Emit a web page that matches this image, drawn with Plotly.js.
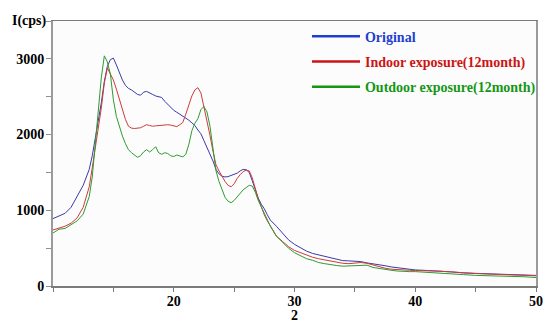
<!DOCTYPE html>
<html>
<head>
<meta charset="utf-8">
<script src="https://cdn.plot.ly/plotly-3.0.1.min.js"></script>
<style>html,body{margin:0;padding:0;background:#fff;}#chart{width:544px;height:323px;}</style>
</head>
<body>
<div id="chart"></div>
<script>
// 2θ values (degrees)
const twoTheta = [10,10.5,11,11.5,12,12.5,13,13.25,13.5,13.75,14,14.25,14.5,14.75,15,15.25,15.5,15.75,16,16.25,16.5,16.75,17,17.25,17.5,17.75,18,18.25,18.5,18.75,19,19.25,19.5,19.75,20,20.25,20.5,20.75,21,21.25,21.5,21.75,22,22.25,22.5,22.75,23,23.25,23.5,23.75,24,24.25,24.5,24.75,25,25.25,25.5,25.75,26,26.25,26.5,26.75,27,27.25,27.5,27.75,28,28.5,29,29.5,30,30.5,31,31.5,32,32.5,33,33.5,34,34.5,35,35.5,36,36.5,37,37.5,38,38.5,39,39.5,40,41,42,43,44,45,46,47,48,49,50];

const original = [890,930,960,1040,1180,1330,1540,1720,1950,2180,2420,2700,2900,2990,3010,2920,2810,2720,2650,2610,2590,2555,2530,2520,2560,2570,2545,2530,2510,2505,2490,2440,2400,2360,2320,2295,2270,2240,2215,2190,2155,2120,2060,2010,1920,1830,1760,1650,1540,1480,1450,1440,1445,1460,1470,1490,1520,1540,1535,1500,1390,1260,1160,1080,1020,940,870,790,700,610,550,500,460,430,410,390,375,345,335,332,328,322,305,295,285,268,252,240,230,220,212,205,198,186,172,166,166,158,150,145,140];

const indoor = [740,760,790,830,900,1040,1310,1560,1820,2080,2350,2680,2880,2800,2720,2600,2470,2330,2200,2110,2085,2080,2080,2090,2110,2130,2120,2110,2115,2120,2125,2125,2130,2125,2110,2105,2130,2160,2270,2400,2510,2590,2620,2550,2370,2160,1990,1780,1600,1520,1440,1380,1330,1310,1350,1420,1470,1510,1530,1520,1430,1280,1150,1050,940,860,790,660,590,520,470,440,400,380,360,345,335,310,300,295,300,310,300,275,255,235,222,215,210,208,205,205,196,186,172,165,158,152,148,142,135];

const outdoor = [700,750,760,810,860,950,1180,1440,1850,2300,2750,3040,2960,2800,2460,2240,2100,1980,1880,1800,1760,1730,1700,1720,1770,1800,1770,1800,1840,1760,1740,1760,1750,1720,1710,1730,1715,1705,1740,1870,2050,2150,2210,2330,2370,2300,2110,1820,1520,1380,1270,1170,1120,1100,1130,1180,1220,1270,1300,1330,1320,1240,1130,1040,950,860,790,660,580,500,440,400,360,340,310,295,280,270,262,265,262,270,275,245,230,218,208,198,190,190,190,178,165,160,150,140,137,134,128,122,112];

const seriesNames = ['Original','Indoor exposure(12month)','Outdoor exposure(12month)'];
const lineColors = ['#3a3aa8','#d03a3a','#2f9a2f'];
const legendColors = ['#1f3fd0','#cc1414','#149614'];
const xTicks = [20,30,40,50];
const yTicks = [0,1000,2000,3000];

const dataSets = [original, indoor, outdoor];
const traces = [];
dataSets.forEach((ys, i) => {
  traces.push({x: twoTheta, y: ys, type: 'scatter', mode: 'lines',
    line: {color: lineColors[i], width: 1}, showlegend: false, hoverinfo: 'skip'});
});
seriesNames.forEach((n, i) => {
  traces.push({x: [null], y: [null], type: 'scatter', mode: 'lines',
    name: '<b><span style="color:' + legendColors[i] + '">' + n + '</span></b>',
    legendgroup: 'g' + i,
    line: {color: legendColors[i], width: 2.5}, showlegend: true});
});

const font = {family: '"Liberation Serif", "Times New Roman", serif', size: 14, color: '#000'};
const b = s => '<b>' + s + '</b>';

const layout = {
  width: 544, height: 323,
  margin: {l: 53, r: 8, t: 21, b: 37, autoexpand: false},
  paper_bgcolor: '#ffffff',
  plot_bgcolor: '#fcfcfc',
  font: font,
  showlegend: true,
  legend: {xref: 'container', yref: 'container', x: 0.5643, y: 0.936, xanchor: 'left', yanchor: 'top',
    bgcolor: 'rgba(0,0,0,0)', font: font, tracegroupgap: 4, itemwidth: 48, borderwidth: 0},
  xaxis: {
    range: [10, 50], tickvals: xTicks, ticktext: xTicks.map(v => b(v)),
    ticks: 'outside', ticklen: 4, tickcolor: '#7a7a7a', tickwidth: 1,
    minor: {dtick: 5, tick0: 0, ticks: 'outside', ticklen: 4, tickcolor: '#7a7a7a'},
    showline: true, linecolor: '#7a7a7a', linewidth: 1.5, mirror: true,
    showgrid: false, zeroline: false, ticklabelstandoff: -2, automargin: false,
    tickfont: font,
    title: {text: b('2'), font: font, standoff: 6}
  },
  yaxis: {
    range: [0, 3500], tickvals: yTicks, ticktext: yTicks.map(v => b(v)),
    ticks: 'outside', ticklen: 5, tickcolor: '#909090', tickwidth: 1,
    minor: {dtick: 500, tick0: 0, ticks: 'outside', ticklen: 5, tickcolor: '#909090'},
    showline: true, linecolor: '#9a9a9a', linewidth: 2, mirror: true,
    showgrid: false, zeroline: false, ticklabelstandoff: -1, automargin: false,
    tickfont: font
  },
  annotations: [{
    text: b('I(cps)'), xref: 'paper', yref: 'paper', x: 0, y: 1, xanchor: 'right', yanchor: 'middle',
    xshift: -4, showarrow: false, font: font
  }]
};

Plotly.newPlot('chart', traces, layout, {displayModeBar: false, staticPlot: true});
</script>
</body>
</html>
